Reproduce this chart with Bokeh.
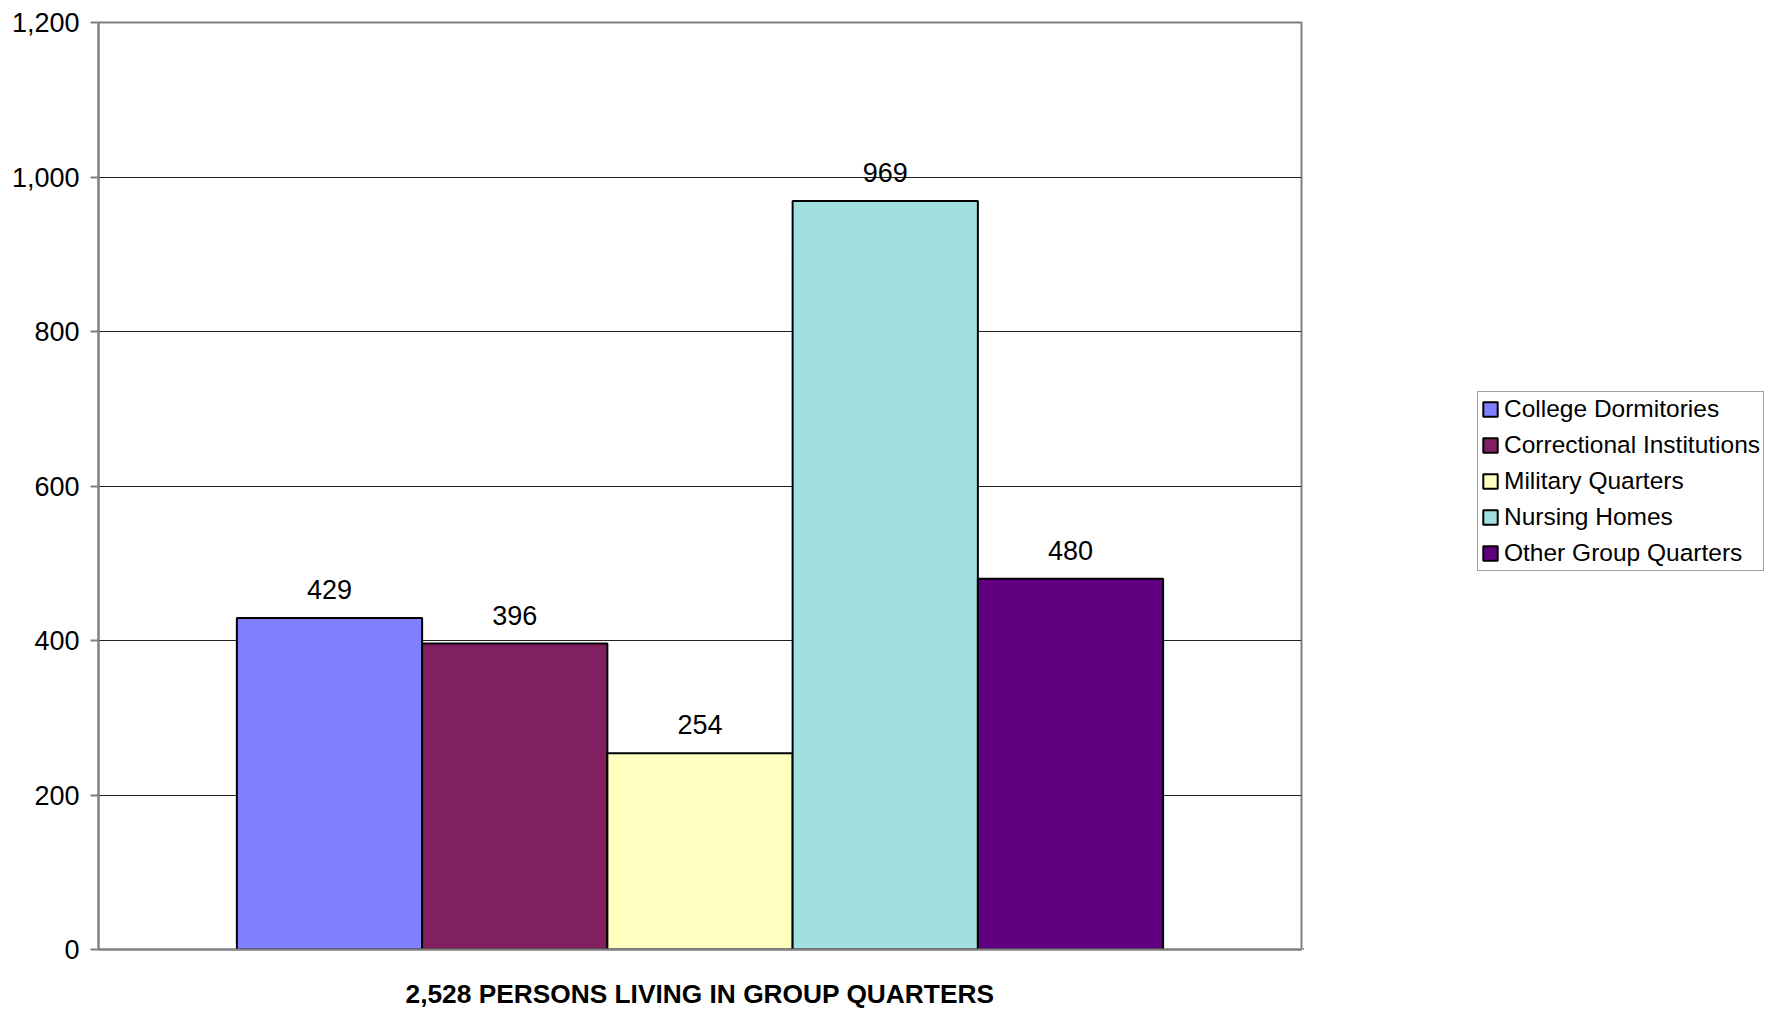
from bokeh.plotting import figure
from bokeh.models import (Range1d, Legend, LegendItem, NumeralTickFormatter, FixedTicker,
                          ColumnDataSource, LabelSet)
from bokeh.layouts import row
from bokeh.embed import file_html
from bokeh.resources import INLINE
from bokeh.core.properties import value

categories = ["College Dormitories", "Correctional Institutions", "Military Quarters",
              "Nursing Homes", "Other Group Quarters"]
values = [429, 396, 254, 969, 480]
colors = ["#8080FF", "#802060", "#FFFFC0", "#A0E0E0", "#600080"]
y_ticks = [0, 200, 400, 600, 800, 1000, 1200]
x_label = "2,528 PERSONS LIVING IN GROUP QUARTERS"

FONT = "Liberation Sans"
n = len(categories)
xs = list(range(n))
half_span = 3.247

src = ColumnDataSource(dict(x=xs, top=values, color=colors, cat=categories,
                            lbl=[f"{v:,}" for v in values]))

H = 1011
p = figure(width=1303, height=H, output_backend="svg", toolbar_location=None,
           x_range=Range1d((n - 1) / 2 - half_span, (n - 1) / 2 + half_span),
           y_range=Range1d(0, 1200),
           min_border_left=98, min_border_right=2, min_border_top=22, min_border_bottom=60)

p.background_fill_color = "white"
p.border_fill_color = "white"
p.outline_line_color = "#808080"
p.outline_line_width = 2

r = p.vbar(x="x", top="top", width=1.0, bottom=0, source=src, fill_color="color",
           line_color="black", line_width=2)

labels = LabelSet(x="x", y="top", text="lbl", source=src, text_align="center",
                  text_baseline="alphabetic", y_offset=19, text_font=value(FONT),
                  text_font_size="27px", text_color="black")
p.add_layout(labels)

# axes
p.yaxis.ticker = FixedTicker(ticks=y_ticks)
p.yaxis.formatter = NumeralTickFormatter(format="0,0")
p.yaxis.major_label_text_font = FONT
p.yaxis.major_label_text_font_size = "27px"
p.yaxis.major_label_text_color = "black"
p.yaxis.axis_line_color = "#808080"
p.yaxis.axis_line_width = 2
p.yaxis.major_tick_line_color = "#808080"
p.yaxis.major_tick_line_width = 2
p.yaxis.major_tick_out = 8
p.yaxis.major_tick_in = 0
p.yaxis.minor_tick_line_color = None
p.yaxis.major_label_standoff = 11

p.xaxis.ticker = FixedTicker(ticks=[])
p.xaxis.major_label_text_font_size = "0px"
p.xaxis.major_tick_line_color = None
p.xaxis.minor_tick_line_color = None
p.xaxis.axis_line_color = "#808080"
p.xaxis.axis_line_width = 2
p.xaxis.axis_label = x_label
p.xaxis.axis_label_text_font = FONT
p.xaxis.axis_label_text_font_style = "bold"
p.xaxis.axis_label_text_font_size = "26.3px"
p.xaxis.axis_label_text_color = "black"
p.xaxis.axis_label_standoff = 29

p.xgrid.grid_line_color = None
p.ygrid.ticker = FixedTicker(ticks=y_ticks)
p.ygrid.grid_line_color = "#222222"
p.ygrid.grid_line_width = 1

# legend panel: a second figure holding only the legend; its proxy glyphs have zero size
p2 = figure(width=471, height=H, output_backend="svg", toolbar_location=None,
            x_range=Range1d(n + 10, n + 11), y_range=Range1d(0, 1200),
            x_axis_location=None, y_axis_location=None,
            min_border_left=0, min_border_right=0, min_border_top=0, min_border_bottom=0)
p2.outline_line_color = None
p2.xgrid.grid_line_color = None
p2.ygrid.grid_line_color = None
r2 = p2.vbar(x="x", top=0, width=0, bottom=0, source=src, fill_color="color",
             line_color="black", line_width=2)

items = [LegendItem(label=c, renderers=[r2], index=i) for i, c in enumerate(categories)]
legend = Legend(items=items, location=(174, 378), orientation="vertical",
                label_text_font=FONT, label_text_font_size="24.5px", label_text_color="black",
                glyph_width=18, glyph_height=18, label_standoff=5, label_height=24,
                spacing=8, padding=3, margin=0,
                border_line_color="#404040", border_line_width=1,
                background_fill_color="white", background_fill_alpha=1.0)
p2.add_layout(legend, "center")

layout = row(p, p2, spacing=0)
open("out.html", "w").write(file_html(layout, INLINE))
